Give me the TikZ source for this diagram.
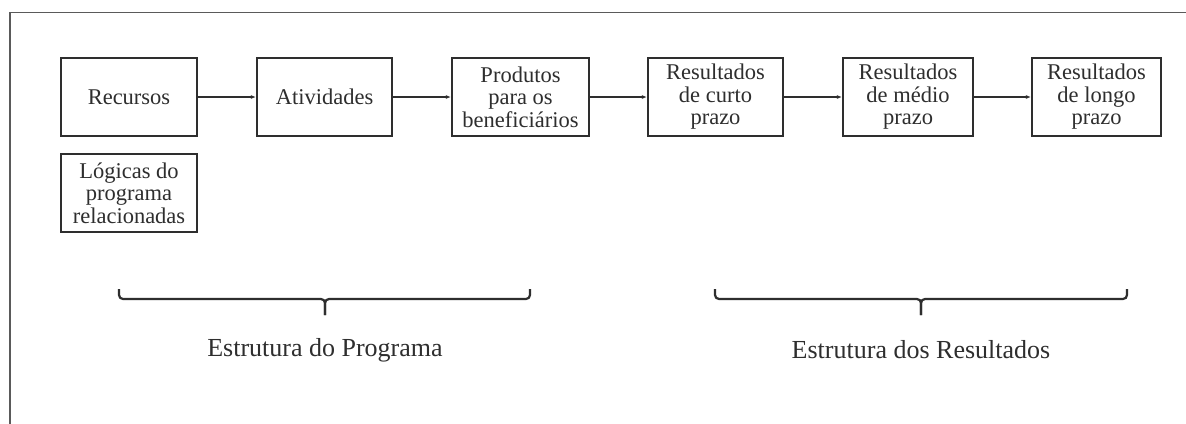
\documentclass[tikz,border=0pt]{standalone}
\usepackage{fontspec}
\setmainfont{Liberation Serif}
\usetikzlibrary{arrows.meta}
\definecolor{ink}{HTML}{2E2E2E}
\definecolor{framegray}{HTML}{5A5A5A}
\begin{document}
\begin{tikzpicture}[x=1pt,y=-1pt,
  stage/.style={draw=ink,line width=2.2pt,minimum height=78pt,inner sep=0pt,
    align=center,text=ink,font=\fontsize{22.5}{22.5}\selectfont},
  flow/.style={draw=ink,line width=1.8pt,-{Latex[length=5pt,width=4pt]}},
  brace/.style={draw=ink,line width=2.2pt,rounded corners=4pt},
  caption/.style={text=ink,font=\fontsize{26}{28}\selectfont,inner sep=0pt}]
\useasboundingbox[fill=white] (0,0) rectangle (1186,423);
% outer frame (only top and left edges fall inside the page)
\draw[framegray,line width=1.8pt] (10,430) -- (10,12.5) -- (1195,12.5);

% stages of the chain
\node[stage,minimum width=136pt] (rec) at (129,97) {Recursos};
\node[stage,minimum width=136pt] (log) at (129,193) {Lógicas do\\programa\\relacionadas};
\node[stage,minimum width=135pt] (ati) at (324.5,97) {Atividades};
\node[stage,minimum width=137pt] (pro) at (520.5,97) {Produtos\\para os\\beneficiários};
\node[stage,minimum width=135pt] (rcp) at (715.5,97) {Resultados\\de curto\\prazo};
\node[stage,minimum width=130pt] (rmp) at (908,97) {Resultados\\de médio\\prazo};
\node[stage,minimum width=129pt] (rlp) at (1096.5,97) {Resultados\\de longo\\prazo};

\draw[flow] (rec) -- (ati);
\draw[flow] (ati) -- (pro);
\draw[flow] (pro) -- (rcp);
\draw[flow] (rcp) -- (rmp);
\draw[flow] (rmp) -- (rlp);

% braces grouping the stages
\coordinate (pl) at (119,289);
\coordinate (pm) at (325,299);
\coordinate (pr) at (530,289);
\coordinate (pt) at (325,315);
\draw[brace] (pl) |- (pm) -- (pt);
\draw[brace] (pr) |- (pm) -- (pt);
\node[caption] (cp) at (325,350) {Estrutura do Programa};

\coordinate (ql) at (715,289);
\coordinate (qm) at (921,299);
\coordinate (qr) at (1127,289);
\coordinate (qt) at (921,315);
\draw[brace] (ql) |- (qm) -- (qt);
\draw[brace] (qr) |- (qm) -- (qt);
\node[caption] (cr) at (921,350) {Estrutura dos Resultados};
\end{tikzpicture}
\end{document}
